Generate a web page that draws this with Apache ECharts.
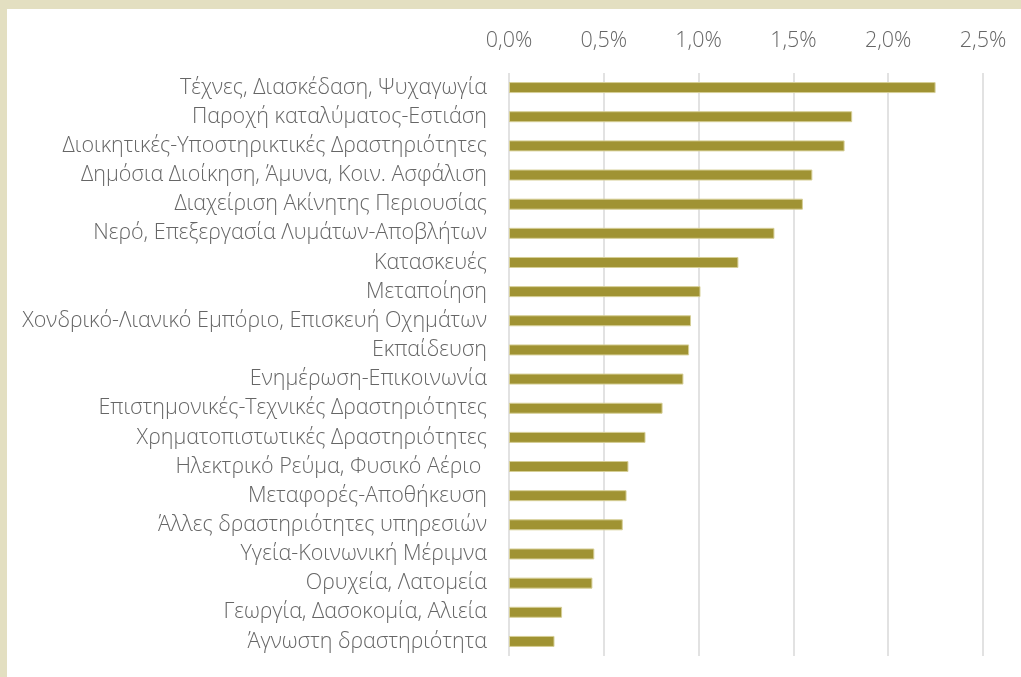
<!DOCTYPE html>
<html>
<head>
    <meta charset="UTF-8">
    <title>ECharts</title>
    <script src="https://cdn.jsdelivr.net/npm/echarts@6/dist/echarts.min.js"></script>
    <style>
        body {margin: 0; background: #fff;}
        #frame-top {position: absolute; left: 0; top: 0; width: 1021px; height: 9px; background: #e3dfc1;}
        #frame-left {position: absolute; left: 0; top: 0; width: 7px; height: 677px; background: #e3dfc1;}
        #main {position: absolute; left: 0; top: 0; width: 1021px; height: 677px;}
    </style>
</head>
<body>
<div id="frame-top"></div>
<div id="frame-left"></div>
<div id="main"></div>
<script>
    // κλάδοι οικονομικής δραστηριότητας
    var categories = [
        'Τέχνες, Διασκέδαση, Ψυχαγωγία',
        'Παροχή καταλύματος-Εστιάση',
        'Διοικητικές-Υποστηρικτικές Δραστηριότητες',
        'Δημόσια Διοίκηση, Άμυνα, Κοιν. Ασφάλιση',
        'Διαχείριση Ακίνητης Περιουσίας',
        'Νερό, Επεξεργασία Λυμάτων-Αποβλήτων',
        'Κατασκευές',
        'Μεταποίηση',
        'Χονδρικό-Λιανικό Εμπόριο, Επισκευή Οχημάτων',
        'Εκπαίδευση',
        'Ενημέρωση-Επικοινωνία',
        'Επιστημονικές-Τεχνικές Δραστηριότητες',
        'Χρηματοπιστωτικές Δραστηριότητες',
        'Ηλεκτρικό Ρεύμα, Φυσικό Αέριο ',
        'Μεταφορές-Αποθήκευση',
        'Άλλες δραστηριότητες υπηρεσιών',
        'Υγεία-Κοινωνική Μέριμνα',
        'Ορυχεία, Λατομεία',
        'Γεωργία, Δασοκομία, Αλιεία',
        'Άγνωστη δραστηριότητα'
    ];
    // ποσοστά (%)
    var values = [2.25, 1.81, 1.77, 1.60, 1.55, 1.40, 1.21, 1.01, 0.96, 0.95,
                  0.92, 0.81, 0.72, 0.63, 0.62, 0.60, 0.45, 0.44, 0.28, 0.24];
    var xTicks = [0, 0.5, 1.0, 1.5, 2.0, 2.5];

    var labelFont = '"Open Sans", "Noto Sans", sans-serif';
    var myChart = echarts.init(document.getElementById('main'));
    var option = {
        animation: false,
        grid: {left: 509, right: 38, top: 73, bottom: 21},
        xAxis: {
            type: 'value',
            position: 'top',
            min: xTicks[0],
            max: xTicks[xTicks.length - 1],
            interval: 0.5,
            axisLine: {show: false},
            axisTick: {show: false},
            axisLabel: {
                margin: 21,
                color: '#666666',
                fontSize: 21.5,
                fontWeight: 300,
                fontFamily: labelFont,
                formatter: function (v) { return v.toFixed(1).replace('.', ',') + '%'; }
            },
            splitLine: {lineStyle: {color: '#d9d9d9', width: 1.5}}
        },
        yAxis: {
            type: 'category',
            inverse: true,
            data: categories,
            axisLine: {show: false},
            axisTick: {show: false},
            axisLabel: {
                margin: 22,
                color: '#666666',
                fontSize: 21.5,
                fontWeight: 300,
                fontFamily: labelFont
            }
        },
        series: [{
            type: 'bar',
            data: values,
            barWidth: 11,
            itemStyle: {color: '#a09333', borderColor: '#d6cf97', borderWidth: 1}
        }]
    };
    myChart.setOption(option);
</script>
</body>
</html>
